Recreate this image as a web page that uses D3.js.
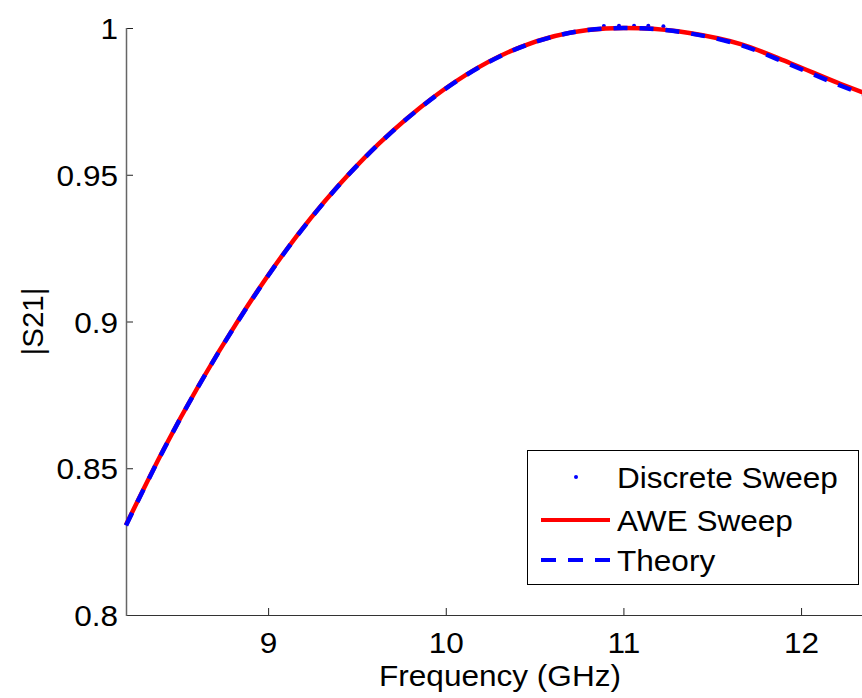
<!DOCTYPE html>
<html><head><meta charset="utf-8">
<script src="https://cdn.jsdelivr.net/npm/d3@7"></script>
<style>
html,body{margin:0;padding:0;background:#fff;}
text{font-family:"Liberation Sans",Arial,sans-serif;fill:#000;}
</style></head>
<body><svg id="c" width="862" height="698"></svg>
<script>
// Data
const freq      = [8.2, 8.41, 8.83, 9.1, 9.24, 9.86, 10.42, 10.8, 11.0, 11.1, 11.38, 11.66, 11.94, 12.22, 12.35];
const aweSweep  = [0.8307, 0.8562, 0.9002, 0.9242, 0.9352, 0.9731, 0.9935, 0.9993, 1.0, 0.9999, 0.9982, 0.9945, 0.9880, 0.9810, 0.9780];
const theory    = [0.8305, 0.8561, 0.9001, 0.9241, 0.9351, 0.9730, 0.9934, 0.9993, 1.0, 0.9999, 0.9981, 0.9942, 0.9875, 0.9804, 0.9774];
const discreteFreq  = [10.89, 10.975, 11.06, 11.14, 11.225];
const discreteVal   = [1.0007, 1.0008, 1.0008, 1.0008, 1.0006];
const xTicks = [9, 10, 11, 12];
const yTicks = [0.8, 0.85, 0.9, 0.95, 1];
const yTickLabels = ["0.8", "0.85", "0.9", "0.95", "1"];
const legendLabels = ["Discrete Sweep", "AWE Sweep", "Theory"];

const FS = 29.5, SX = 1.07;
const svg = d3.select("#c");
const L = 126, R = 862, T = 28, B = 615;
const x = d3.scaleLinear().domain([8.2, 12.343]).range([L, R]);
const y = d3.scaleLinear().domain([0.8, 1]).range([B, T]);

// axes
const xAxis = svg.append("g").attr("transform", `translate(0,${B})`)
  .call(d3.axisBottom(x).tickValues(xTicks).tickSize(-7).tickFormat(d3.format("d")));
const yAxis = svg.append("g").attr("transform", `translate(${L},0)`)
  .call(d3.axisLeft(y).tickValues(yTicks).tickSize(-7).tickFormat((d,i)=>yTickLabels[i]));
[xAxis, yAxis].forEach(g => {
  g.select(".domain").remove();
  g.selectAll(".tick line").attr("stroke", "#222").attr("stroke-width", 1);
  g.selectAll(".tick text").attr("font-size", FS).attr("fill", "#000")
   .style("font-family", '"Liberation Sans",Arial,sans-serif')
   .attr("transform", `scale(${SX},1)`);
});
xAxis.selectAll(".tick text").attr("y", 17).attr("dy", "0.71em");
yAxis.selectAll(".tick text").attr("x", -8 / SX).attr("dy", "0.36em");
svg.append("line").attr("x1", L).attr("x2", R).attr("y1", B + 0.5).attr("y2", B + 0.5)
  .attr("stroke", "#333").attr("stroke-width", 1);
svg.append("line").attr("x1", L + 0.5).attr("x2", L + 0.5).attr("y1", T).attr("y2", B + 1)
  .attr("stroke", "#666").attr("stroke-width", 1.5);

// axis labels
svg.append("text").attr("transform", `translate(500,686) scale(${SX},1)`).attr("text-anchor", "middle")
  .attr("font-size", FS).text("Frequency (GHz)");
svg.append("text").attr("transform", `translate(43,${y(0.9)}) rotate(-90)`)
  .attr("text-anchor", "middle").attr("font-size", FS).text("|S21|");

// series
const disc = discreteFreq.map((f, i) => [f, discreteVal[i]]);
svg.append("g").selectAll("circle").data(disc).join("circle")
  .attr("cx", d => x(d[0])).attr("cy", d => y(d[1])).attr("r", 2).attr("fill", "#0000ff");

const line = d3.line().x(d => x(d[0])).y(d => y(d[1])).curve(d3.curveMonotoneX);
svg.append("path").datum(freq.map((f, i) => [f, aweSweep[i]]))
  .attr("d", line).attr("fill", "none").attr("stroke", "#ff0000").attr("stroke-width", 4.5);
svg.append("path").datum(freq.map((f, i) => [f, theory[i]]))
  .attr("d", line).attr("fill", "none").attr("stroke", "#0000ff").attr("stroke-width", 4.5)
  .attr("stroke-dasharray", "14,12");

// legend
const lg = svg.append("g");
lg.append("rect").attr("x", 527.5).attr("y", 450.5).attr("width", 331).attr("height", 134)
  .attr("fill", "#fff").attr("stroke", "#000").attr("stroke-width", 1);
const rows = [477, 520, 560];
lg.append("circle").attr("cx", 576).attr("cy", rows[0]).attr("r", 2).attr("fill", "#0000ff");
lg.append("line").attr("x1", 541).attr("x2", 610).attr("y1", rows[1]).attr("y2", rows[1])
  .attr("stroke", "#ff0000").attr("stroke-width", 4);
lg.append("line").attr("x1", 541).attr("x2", 610).attr("y1", rows[2]).attr("y2", rows[2])
  .attr("stroke", "#0000ff").attr("stroke-width", 4).attr("stroke-dasharray", "15,12");
legendLabels.forEach((t, i) => {
  lg.append("text").attr("transform", `translate(617,${rows[i]}) scale(${SX},1)`).attr("dy", "0.36em")
    .attr("font-size", FS).text(t);
});
</script></body></html>
